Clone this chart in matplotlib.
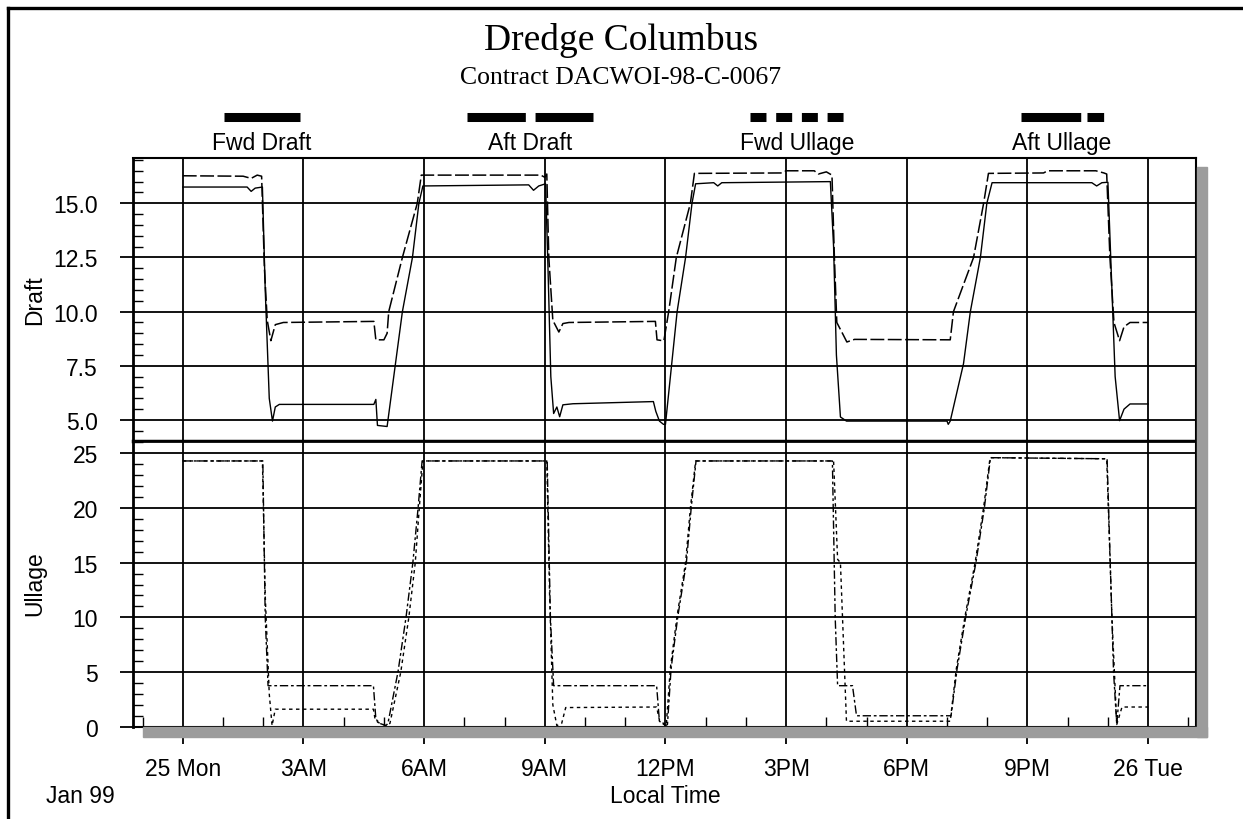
import matplotlib
matplotlib.use("Agg")
import matplotlib.pyplot as plt
from matplotlib.ticker import MultipleLocator
from matplotlib.lines import Line2D
from matplotlib.patches import Rectangle

plt.rcParams['font.family'] = ['Liberation Sans', 'DejaVu Sans']
plt.rcParams['lines.scale_dashes'] = False

# ---------------- data (hours from 25 Jan 00:00) ----------------
series_names = ["Fwd Draft", "Aft Draft", "Fwd Ullage", "Aft Ullage"]

fwd_draft_t = [0, 1.6, 1.7, 1.8, 1.98, 2.05, 2.15, 2.23, 2.3, 2.4, 4.75, 4.8, 4.84, 5.08, 5.46, 5.71, 5.87, 5.97,
               8.6, 8.72, 8.85, 9.02, 9.08, 9.15, 9.22, 9.3, 9.37, 9.45, 9.7, 11.7, 11.76, 11.85, 11.95, 12.0,
               12.29, 12.5, 12.66, 12.75, 13.2, 13.3, 13.4, 16.1, 16.18, 16.25, 16.35, 16.5, 19.0, 19.03, 19.08,
               19.41, 19.58, 19.83, 19.99, 20.12, 22.6, 22.72, 22.85, 23.0, 23.08, 23.18, 23.29, 23.4, 23.55, 24.0]
fwd_draft_v = [15.75, 15.75, 15.55, 15.7, 15.75, 11.0, 6.0, 4.95, 5.6, 5.72, 5.72, 5.95, 4.75, 4.7, 10.0, 12.5, 15.0, 15.8,
               15.85, 15.6, 15.8, 15.9, 12.0, 7.0, 5.3, 5.6, 5.15, 5.7, 5.75, 5.85, 5.4, 4.95, 4.8, 4.8,
               10.0, 12.5, 15.0, 15.9, 15.95, 15.8, 15.95, 16.0, 13.0, 8.0, 5.14, 4.95, 4.95, 4.8, 4.95,
               7.6, 10.0, 12.5, 15.0, 15.95, 15.95, 15.8, 15.95, 15.97, 12.0, 7.0, 4.97, 5.5, 5.74, 5.74]

aft_draft_t = [0, 1.5, 1.7, 1.85, 1.96, 2.03, 2.1, 2.19, 2.3, 2.5, 4.75, 4.8, 5.0, 5.08, 5.12, 5.46, 5.83, 5.93,
               8.9, 9.0, 9.05, 9.1, 9.2, 9.35, 9.45, 9.6, 11.75, 11.79, 11.96, 12.08, 12.27, 12.62, 12.72,
               14.9, 15.0, 15.7, 15.8, 16.0, 16.14, 16.2, 16.26, 16.4, 16.51, 16.7, 19.08, 19.16, 19.66, 19.91,
               20.03, 21.4, 21.5, 22.7, 22.9, 22.97, 23.05, 23.15, 23.29, 23.4, 23.55, 24.0]
aft_draft_v = [16.27, 16.25, 16.15, 16.3, 16.25, 12.0, 9.6, 8.66, 9.4, 9.5, 9.55, 8.7, 8.7, 9.0, 10.0, 12.5, 15.0, 16.3,
               16.3, 16.2, 16.35, 12.5, 9.6, 9.06, 9.45, 9.5, 9.55, 8.7, 8.65, 10.0, 12.5, 15.0, 16.38,
               16.4, 16.5, 16.5, 16.35, 16.45, 16.3, 12.5, 9.5, 9.0, 8.6, 8.72, 8.7, 10.0, 12.5, 15.0,
               16.38, 16.4, 16.5, 16.5, 16.4, 16.35, 12.5, 9.5, 8.66, 9.3, 9.5, 9.5]

fwd_ullage_t = [0, 1.98, 2.05, 2.15, 2.22, 2.3, 4.74, 4.78, 4.85, 5.05, 5.15, 5.42, 5.62, 5.78, 5.88, 5.97,
                9.05, 9.12, 9.2, 9.3, 9.42, 9.52, 11.78, 11.85, 12.02, 12.12, 12.29, 12.5, 12.62, 12.75,
                16.18, 16.28, 16.35, 16.5, 19.08, 19.23, 19.45, 19.7, 19.91, 20.07,
                22.97, 23.1, 23.22, 23.35, 23.93, 24.0]
fwd_ullage_v = [24.3, 24.3, 12.0, 3.0, 0.1, 1.6, 1.6, 0.7, 0.4, 0.1, 0.3, 5.0, 10.0, 15.0, 20.0, 24.3,
                24.3, 12.0, 2.0, 0.1, 0.3, 1.75, 1.8, 0.6, 0.1, 5.3, 10.15, 15.0, 20.0, 24.3,
                24.3, 15.3, 15.0, 0.5, 0.5, 5.27, 10.15, 15.03, 20.05, 24.6,
                24.5, 10.0, 0.2, 1.8, 1.8, 1.8]

aft_ullage_t = [0, 1.99, 2.05, 2.12, 4.74, 4.8, 4.9, 5.05, 5.1, 5.35, 5.55, 5.72, 5.85, 5.95,
                9.06, 9.14, 9.22, 11.78, 11.85, 12.0, 12.05, 12.14, 12.31, 12.52, 12.64, 12.76,
                16.15, 16.22, 16.28, 16.65, 16.75, 19.1, 19.25, 19.47, 19.72, 19.93, 20.08,
                22.98, 23.14, 23.22, 23.3, 23.95]
aft_ullage_v = [24.3, 24.3, 10.0, 3.75, 3.75, 0.7, 0.3, 0.1, 0.3, 5.0, 10.0, 15.0, 20.0, 24.3,
                24.3, 10.0, 3.75, 3.75, 0.5, 0.1, 0.2, 5.3, 10.15, 15.0, 20.0, 24.3,
                24.3, 10.0, 3.75, 3.75, 1.0, 1.0, 5.27, 10.15, 15.03, 20.05, 24.6,
                24.5, 5.0, 0.2, 3.75, 3.75]

x_ticks = [0, 3, 6, 9, 12, 15, 18, 21, 24]
x_tick_labels = ["25 Mon", "3AM", "6AM", "9AM", "12PM", "3PM", "6PM", "9PM", "26 Tue"]
draft_ticks = [5.0, 7.5, 10.0, 12.5, 15.0]
ullage_ticks = [0, 5, 10, 15, 20, 25]

# ---------------- figure ----------------
W, H = 1243, 820
fig = plt.figure(figsize=(W / 100, H / 100), dpi=100)

def fx(px):
    return px / W

def fy(py):
    return 1 - py / H

left_px, right_px = 133.3, 1196
top_px, mid_px, bot_px = 159, 441.5, 727.7

ax1 = fig.add_axes([fx(left_px), fy(mid_px), fx(right_px - left_px), (mid_px - top_px) / H])
ax2 = fig.add_axes([fx(left_px), fy(bot_px), fx(right_px - left_px), (bot_px - mid_px) / H])

styles = {
    "Fwd Draft": dict(linestyle='-', lw=1.0),
    "Aft Draft": dict(dashes=(10, 2.5), lw=1.1),
    "Fwd Ullage": dict(dashes=(2.5, 2.5), lw=1.0),
    "Aft Ullage": dict(dashes=(6, 2, 2, 2), lw=1.0),
}

ax1.plot(fwd_draft_t, fwd_draft_v, color='black', zorder=3, **styles["Fwd Draft"])
ax1.plot(aft_draft_t, aft_draft_v, color='black', zorder=3, **styles["Aft Draft"])
ax2.plot(fwd_ullage_t, fwd_ullage_v, color='black', zorder=3, **styles["Fwd Ullage"])
ax2.plot(aft_ullage_t, aft_ullage_v, color='black', zorder=3, **styles["Aft Ullage"])

xlim = (-1.23, 25.19)
ax1.set_xlim(*xlim)
ax2.set_xlim(*xlim)
ax1.set_ylim(4.054, 17.09)
ax2.set_ylim(0, 26.17)

for ax in (ax1, ax2):
    ax.set_xticks(x_ticks)
    ax.grid(True, which='major', color='black', lw=1.3, zorder=1)
    for s in ax.spines.values():
        s.set_linewidth(1.5)
    ax.spines['left'].set_linewidth(2.0)
    ax.tick_params(axis='y', which='major', direction='out', length=9.5, width=1.3,
                   pad=16, labelsize=16.5)
    ax.tick_params(axis='y', which='minor', direction='in', length=7.5, width=1.0)

ax1.set_yticks(draft_ticks)
ax1.set_yticklabels([f"{v:.1f}" for v in draft_ticks])
ax1.yaxis.set_minor_locator(MultipleLocator(0.5))
ax1.tick_params(axis='x', which='both', length=0, labelbottom=False)
ax1.spines['bottom'].set_linewidth(2.5)

ax2.set_yticks(ullage_ticks)
ax2.set_yticklabels([str(v) for v in ullage_ticks])
ax2.yaxis.set_minor_locator(MultipleLocator(1))
ax2.xaxis.set_minor_locator(MultipleLocator(1))
ax2.set_xticklabels(x_tick_labels)
ax2.tick_params(axis='x', which='major', direction='out', length=12.5, width=1.3,
                pad=9, labelsize=16.5)
ax2.tick_params(axis='x', which='minor', direction='in', length=7.5, width=1.0)
ax2.spines['top'].set_linewidth(2.0)

# drop shadow
shadow = '#9c9c9c'
fig.patches.append(Rectangle((fx(143), fy(737.5)), fx(1207 - 143), (737.5 - bot_px - 0.5) / H,
                             transform=fig.transFigure, color=shadow, zorder=0))
fig.patches.append(Rectangle((fx(right_px + 0.5), fy(737.5)), fx(1207 - right_px - 0.5), (737.5 - 168) / H,
                             transform=fig.transFigure, color=shadow, zorder=0))

# outer frame
fig.add_artist(Line2D([fx(8), fx(1243)], [fy(9), fy(9)], color='black', lw=2.4, transform=fig.transFigure))
fig.add_artist(Line2D([fx(8), fx(8)], [fy(9), fy(820)], color='black', lw=2.4, transform=fig.transFigure))

# titles
fig.text(fx(621), fy(40), "Dredge Columbus", ha='center', va='center',
         family=['Liberation Serif', 'DejaVu Serif'], fontsize=27)
fig.text(fx(621), fy(78), "Contract DACWOI-98-C-0067", ha='center', va='center',
         family=['Liberation Serif', 'DejaVu Serif'], fontsize=18.5)

# legend (line sample above label)
leg_centers = [262, 530, 797, 1062]
leg_widths = [76, 125, 95, 83]
leg_dashes = [None, (42, 7), (11.5, 7), (43, 4.5, 12, 4.5)]
for name, cx, w, d in zip(series_names, leg_centers, leg_widths, leg_dashes):
    ln = Line2D([fx(cx - w / 2), fx(cx + w / 2)], [fy(117.5), fy(117.5)], color='black', lw=6.5,
                solid_capstyle='butt', dash_capstyle='butt', transform=fig.transFigure)
    if d is not None:
        ln.set_dashes(d)
    fig.add_artist(ln)
    fig.text(fx(cx), fy(144), name, ha='center', va='center', fontsize=16.5)

# axis labels
fig.text(fx(35), fy(300), "Draft", rotation=90, ha='center', va='center', fontsize=16.5)
fig.text(fx(35), fy(584), "Ullage", rotation=90, ha='center', va='center', fontsize=16.5)
fig.text(fx(665), fy(797), "Local Time", ha='center', va='center', fontsize=16.5)
fig.text(fx(80), fy(797), "Jan 99", ha='center', va='center', fontsize=16.5)

fig.savefig("out.png", dpi=100)
